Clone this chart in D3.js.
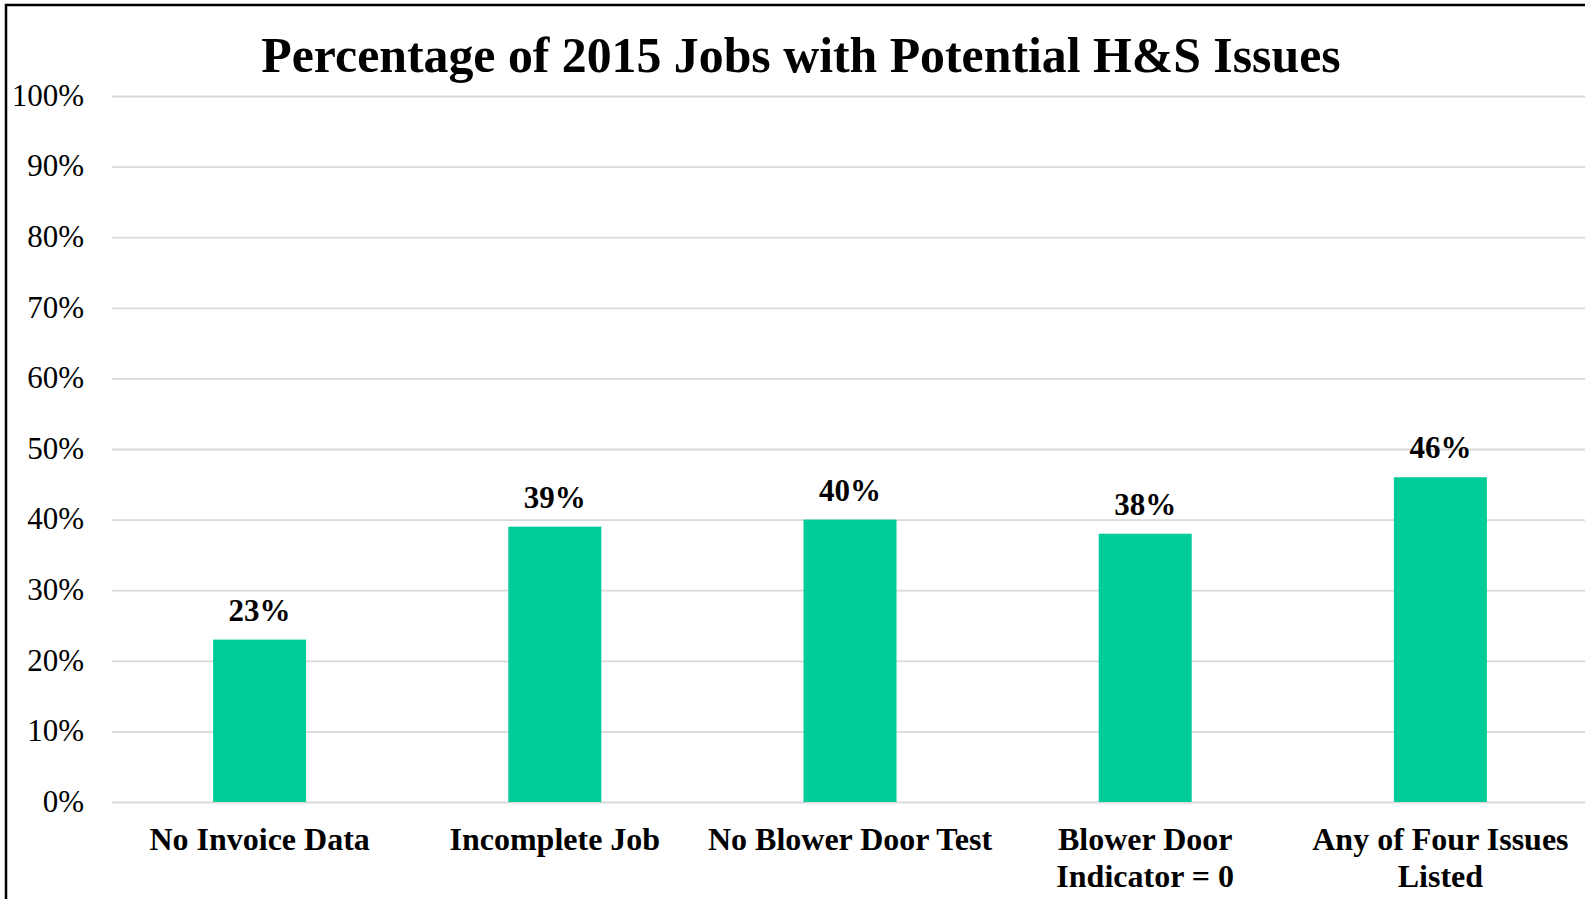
<!DOCTYPE html>
<html>
<head>
<meta charset="utf-8">
<script src="https://cdn.jsdelivr.net/npm/d3@7"></script>
<style>
  html, body { margin: 0; padding: 0; background: #fff; }
  svg { display: block; }
  text { font-family: "Liberation Serif", "Times New Roman", serif; fill: #000; }
</style>
</head>
<body>
<svg id="chart" width="1585" height="899"></svg>
<script>
// Share of 2015 jobs flagged with each potential health & safety issue
const categories = ["No Invoice Data", "Incomplete Job", "No Blower Door Test", "Blower Door Indicator = 0", "Any of Four Issues Listed"];
const values = [0.23, 0.39, 0.40, 0.38, 0.46];
const yTicks = [0, 0.1, 0.2, 0.3, 0.4, 0.5, 0.6, 0.7, 0.8, 0.9, 1.0];
const titleText = "Percentage of 2015 Jobs with Potential H&S Issues";

const W = 1585, H = 899;
const plot = { left: 112, right: 1588, top: 96, bottom: 802 };
const barColor = "#00CC99";
const gridColor = "#D9D9D9";

const svg = d3.select("#chart");

// Outer frame (left and top edges visible; the rest falls outside the view)
svg.append("rect")
  .attr("x", 6).attr("y", 5)
  .attr("width", W + 20).attr("height", H + 20)
  .attr("fill", "#fff")
  .attr("stroke", "#000").attr("stroke-width", 2.5);

const x = d3.scaleBand()
  .domain(categories)
  .range([plot.left, plot.right])
  .paddingInner(0.685)
  .paddingOuter(0.3425);

const y = d3.scaleLinear()
  .domain([0, 1])
  .range([plot.bottom, plot.top]);

// Title
svg.append("text")
  .attr("x", 801).attr("y", 72)
  .attr("text-anchor", "middle")
  .style("font-size", "49.8px")
  .style("font-weight", "bold")
  .text(titleText);

// Value axis with gridlines
const yAxis = d3.axisLeft(y)
  .tickValues(yTicks)
  .tickFormat(d3.format(".0%"))
  .tickSize(-(plot.right - plot.left))
  .tickPadding(28);

const gy = svg.append("g")
  .attr("transform", `translate(${plot.left},0)`)
  .call(yAxis);
gy.select(".domain").remove();
gy.selectAll(".tick line")
  .attr("stroke", gridColor)
  .attr("stroke-width", 1.8);
gy.selectAll(".tick text")
  .attr("fill", "#000")
  .attr("dy", "0.3em")
  .style("font-size", "31px")
  .style("font-family", "'Liberation Serif', 'Times New Roman', serif");

// Bars
svg.append("g").selectAll("rect")
  .data(values)
  .join("rect")
  .attr("x", (d, i) => x(categories[i]))
  .attr("y", d => y(d))
  .attr("width", x.bandwidth())
  .attr("height", d => y(0) - y(d))
  .attr("fill", barColor);

// Value labels above bars
svg.append("g").selectAll("text")
  .data(values)
  .join("text")
  .attr("x", (d, i) => x(categories[i]) + x.bandwidth() / 2)
  .attr("y", d => y(d) - 19)
  .attr("text-anchor", "middle")
  .style("font-size", "31px")
  .style("font-weight", "bold")
  .text(d => d3.format(".0%")(d));

// Category axis (labels only, wrapped to the band step)
const xAxis = d3.axisBottom(x).tickSize(0).tickPadding(0);
const gx = svg.append("g")
  .attr("transform", `translate(0,${plot.bottom})`)
  .call(xAxis);
gx.select(".domain").remove();

const maxLabelWidth = x.step();
gx.selectAll(".tick text")
  .attr("fill", "#000")
  .style("font-size", "32px")
  .style("font-weight", "bold")
  .style("font-family", "'Liberation Serif', 'Times New Roman', serif")
  .each(function (d) {
    const t = d3.select(this);
    const words = d.split(" ");
    t.text(null).attr("y", 0).attr("dy", null);
    const lines = [];
    let line = [];
    const probe = t.append("tspan");
    words.forEach(w => {
      const trial = line.concat(w).join(" ");
      probe.text(trial);
      if (probe.node().getComputedTextLength() > maxLabelWidth && line.length) {
        lines.push(line.join(" "));
        line = [w];
      } else {
        line.push(w);
      }
    });
    lines.push(line.join(" "));
    probe.remove();
    lines.forEach((ln, k) => {
      t.append("tspan")
        .attr("x", 0)
        .attr("y", 48 + k * 37)
        .text(ln);
    });
  });
</script>
</body>
</html>
